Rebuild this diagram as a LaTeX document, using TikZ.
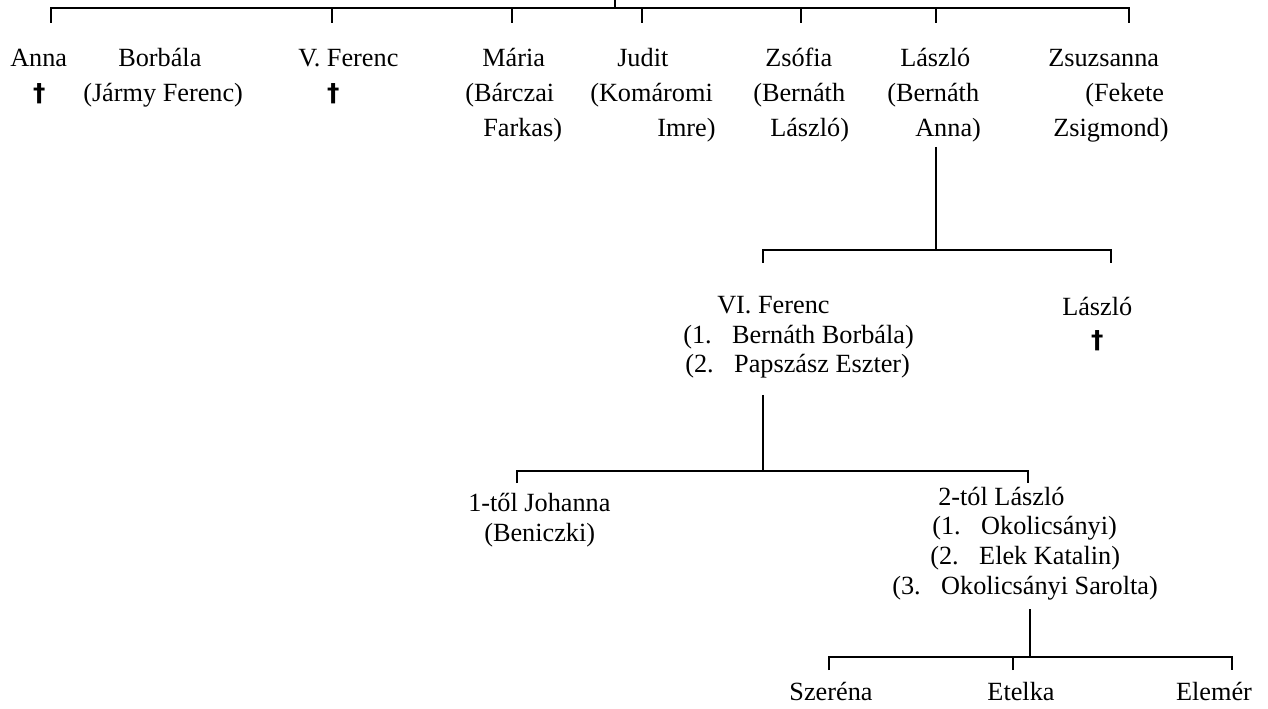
\documentclass[tikz,border=0pt]{standalone}
\usepackage{fontspec}
\setmainfont{Liberation Serif}
\newfontfamily\dagfont{DejaVu Sans}
\newlength\pxu
\setlength\pxu{0.75pt}
\newcommand\myin[1]{\hspace*{#1\pxu}}
\newcommand\mydag{\makebox[0pt]{\dagfont\bfseries\fontsize{18.5pt}{18.5pt}\selectfont †}}
\newcommand\gp{\hspace*{20.5\pxu}}
\tikzset{
  tree/.style={line width=1.5pt},
  toprow/.style={anchor=base west, align=left, inner sep=0pt, font=\fontsize{19.7pt}{26.3pt}\selectfont},
  lowrow/.style={anchor=base west, align=left, inner sep=0pt, font=\fontsize{19.7pt}{22.2pt}\selectfont},
  single/.style={anchor=base, inner sep=0pt, font=\fontsize{19.7pt}{22.2pt}\selectfont}
}
\begin{document}
\begin{tikzpicture}[x=0.75pt,y=-0.75pt]
\useasboundingbox (0,0) rectangle (1268,709);
% anchors are at the baseline of the LAST line of each node
% ---------- top generation ----------
\node[toprow] (anna) at (10,102) {Anna\\\myin{29}\mydag};
\node[toprow] (borbala) at (83,102) {\myin{35}Borbála\\(Jármy Ferenc)};
\node[toprow] (vferenc) at (298,102) {V. Ferenc\\\myin{35}\mydag};
\node[toprow] (maria) at (465,137) {\myin{17}Mária\\(Bárczai\\\myin{18}Farkas)};
\node[toprow] (judit) at (590,137) {\myin{27}Judit\\(Komáromi\\\myin{67}Imre)};
\node[toprow] (zsofia) at (753,137) {\myin{12}Zsófia\\(Bernáth\\\myin{17}László)};
\node[toprow] (laszlo) at (887,137) {\myin{13}László\\(Bernáth\\\myin{28}Anna)};
\node[toprow] (zsuzsa) at (1048,137) {Zsuzsanna\\\myin{37}(Fekete\\\myin{5}Zsigmond)};
% ---------- second generation ----------
\node[lowrow] (vif) at (683,373) {\myin{34}VI. Ferenc\\(1.\gp Bernáth Borbála)\\\myin{2}(2.\gp Papszász Eszter)};
\node[toprow, font=\fontsize{19.7pt}{24.8pt}\selectfont] (laszlo2) at (1062,349) {László\\\myin{35}\mydag};
% ---------- third generation ----------
\node[lowrow] (johanna) at (468,541) {1-től Johanna\\\myin{16}(Beniczki)};
\node[lowrow] (laszlo3) at (892,594) {\myin{46}2-tól László\\\myin{40}(1.\gp Okolicsányi)\\\myin{38}(2.\gp Elek Katalin)\\(3.\gp Okolicsányi Sarolta)};
% ---------- fourth generation ----------
\node[single] (szerena) at (831,700) {Szeréna};
\node[single] (etelka) at (1021,700) {Etelka};
\node[single] (elemer) at (1214,700) {Elemér};
% ---------- connectors ----------
\coordinate (root) at (615,0);
\coordinate (anna-t) at (51,23);
\coordinate (vferenc-t) at (332,23);
\coordinate (maria-t) at (512,23);
\coordinate (judit-t) at (642,23);
\coordinate (zsofia-t) at (801,23);
\coordinate (laszlo-t) at (936,23);
\coordinate (zsuzsa-t) at (1129,23);
\draw[tree] (anna-t) -- ++(0,-15) -| (zsuzsa-t);
\draw[tree] (root) -- ++(0,8);
\foreach \c in {vferenc-t,maria-t,judit-t,zsofia-t,laszlo-t}
  \draw[tree] (\c) -- ++(0,-15);
% Laszlo's children
\coordinate (laszlo-s) at (936,147);
\coordinate (vif-t) at (763,263);
\coordinate (laszlo2-t) at (1111,263);
\draw[tree] (laszlo-s) -- (936,250);
\draw[tree] (vif-t) -- ++(0,-13) -| (laszlo2-t);
% VI. Ferenc's children
\coordinate (vif-s) at (763,395);
\coordinate (johanna-t) at (517,483);
\coordinate (laszlo3-t) at (1028,483);
\draw[tree] (vif-s) -- (763,471);
\draw[tree] (johanna-t) -- ++(0,-12) -| (laszlo3-t);
% Laszlo (2-tol)'s children
\coordinate (laszlo3-s) at (1030,609);
\coordinate (szerena-t) at (829,670);
\coordinate (etelka-t) at (1013,670);
\coordinate (elemer-t) at (1232,670);
\draw[tree] (laszlo3-s) -- (1030,657);
\draw[tree] (szerena-t) -- ++(0,-13) -| (elemer-t);
\draw[tree] (etelka-t) -- ++(0,-13);
\end{tikzpicture}
\end{document}
